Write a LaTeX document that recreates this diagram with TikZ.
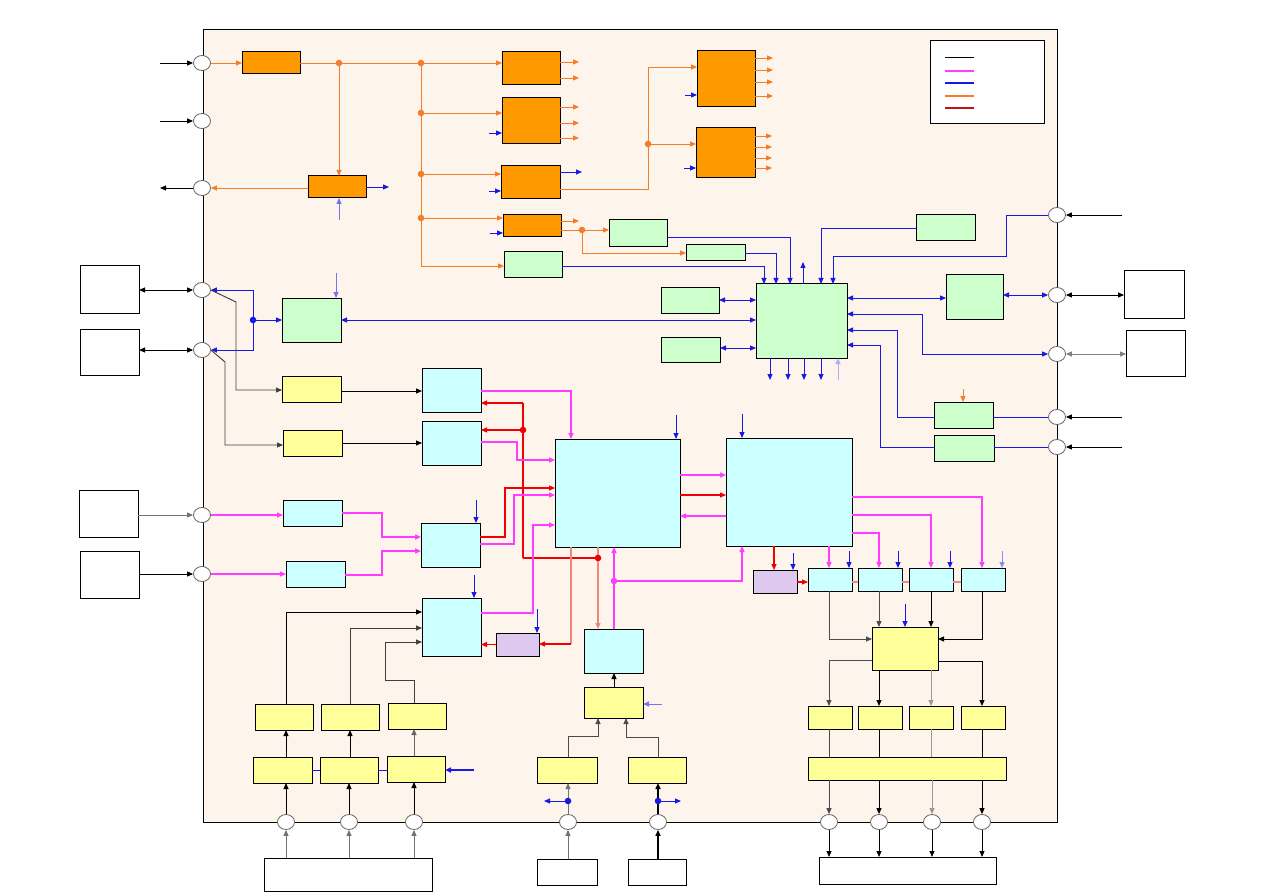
\documentclass[tikz,border=0pt]{standalone}
\usetikzlibrary{arrows.meta,shapes.geometric,fit}
\definecolor{bgF}{RGB}{253,244,235}
\definecolor{orF}{RGB}{255,153,0}
\definecolor{grF}{RGB}{204,255,204}
\definecolor{cyF}{RGB}{204,255,255}
\definecolor{yeF}{RGB}{255,255,153}
\definecolor{laF}{RGB}{222,200,240}
\definecolor{oL}{RGB}{245,125,40}
\definecolor{mL}{RGB}{255,60,255}
\definecolor{bL}{RGB}{25,25,230}
\definecolor{rL}{RGB}{240,0,0}
\definecolor{sL}{RGB}{238,135,125}
\definecolor{dR}{RGB}{190,20,20}
\tikzset{
 box/.style={draw=black,line width=1pt,inner sep=0pt,outer sep=0pt},
 ob/.style={box,fill=orF}, gb/.style={box,fill=grF}, cb/.style={box,fill=cyF},
 yb/.style={box,fill=yeF}, lb/.style={box,fill=laF}, wb/.style={box,fill=white},
 port/.style={ellipse,draw=black!60,fill=white,minimum width=17pt,minimum height=15pt,inner sep=0pt,line width=0.8pt},
 ln/.style={line width=0.95pt},
 tp/.style={-{Triangle[length=6pt,width=5pt]}},
 dtp/.style={{Triangle[length=6pt,width=5pt]}-{Triangle[length=6pt,width=5pt]}},
 kl/.style={ln,draw=black}, kar/.style={kl,tp}, kdar/.style={kl,dtp},
 ol/.style={ln,draw=oL}, oar/.style={ol,tp,color=oL},
 bl/.style={ln,draw=bL}, bar/.style={bl,tp,color=bL}, bdar/.style={bl,dtp,color=bL},
 ml/.style={line width=1.3pt,draw=mL}, mar/.style={ml,tp,color=mL},
 rl/.style={line width=1.1pt,draw=rL}, rar/.style={rl,tp,color=rL},
 sl/.style={line width=1.3pt,draw=sL}, sar/.style={sl,tp,color=sL},
}
\newcommand{\bx}[6]{\node[#2,fit={(#3,#4)(#5,#6)}] (#1) {};}
\begin{document}
\begin{tikzpicture}[x=1pt,y=-1pt]
\useasboundingbox (0,0) rectangle (1263,893);
\fill[white] (0,0) rectangle (1263,893);
\bx{main}{box,fill=bgF}{203}{30}{1057}{822}
% ports
\foreach \n/\y in {pl1/63,pl2/121,pl3/188,pl4/290,pl5/350,pl6/515,pl7/574}{\node[port] (\n) at (202,\y) {};}
\foreach \n/\y in {pr1/215,pr2/295,pr3/354,pr4/417,pr5/447}{\node[port] (\n) at (1057,\y) {};}
\foreach \n/\x in {pb1/286,pb2/349,pb3/414,pb4/568,pb5/658,pb6/829,pb7/879,pb8/932,pb9/982}{\node[port] (\n) at (\x,822) {};}
% external boxes
\bx{el1}{wb}{80}{266}{139}{313}
\bx{el2}{wb}{80}{329}{139}{375}
\bx{el3}{wb}{79}{490}{138}{537}
\bx{el4}{wb}{80}{551}{139}{598}
\bx{er1}{wb}{1124}{271}{1184}{318}
\bx{er2}{wb}{1126}{330}{1185}{376}
\bx{eb1}{wb}{264}{858}{432}{891}
\bx{eb2}{wb}{537}{859}{597}{885}
\bx{eb3}{wb}{628}{859}{686}{885}
\bx{eb4}{wb}{819}{857}{996}{884}
% external arrows
\coordinate (xa1) at (160,63); \coordinate (xa2) at (160,121); \coordinate (xa3) at (160,188);
\draw[kar] (xa1) -- (pl1.west);
\draw[kar] (xa2) -- (pl2.west);
\draw[kar] (pl3.west) -- (xa3);
\draw[kdar] (el1.east|-pl4) -- (pl4.west);
\draw[kdar] (el2.east|-pl5) -- (pl5.west);
\draw[kar,draw=black!55] (el3.east|-pl6) -- (pl6.west);
\draw[kar] (el4.east|-pl7) -- (pl7.west);
\coordinate (xr1) at (1122,215); \coordinate (xr4) at (1122,417); \coordinate (xr5) at (1122,447);
\draw[kar] (xr1) -- (pr1.east);
\draw[kdar] (pr2.east) -- (er1.west|-pr2);
\draw[kdar,draw=black!50] (pr3.east) -- (er2.west|-pr3);
\draw[kar] (xr4) -- (pr4.east);
\draw[kar] (xr5) -- (pr5.east);
\foreach \p in {pb1,pb2,pb3}{\draw[kar,draw=black!55] (\p|-eb1.north) -- (\p.south);}
\draw[kar,draw=black!55] (pb4|-eb2.north) -- (pb4.south);
\draw[kar,line width=2pt] (pb5|-eb3.north) -- (pb5.south);
\foreach \p in {pb6,pb7,pb8,pb9}{\draw[kar] (\p.south) -- (\p|-eb4.north);}
% legend
\bx{lg}{wb}{930}{41}{1044}{124}
\draw[black,line width=1pt] (945,58) -- (974,58);
\draw[mL,line width=2.2pt] (945,71) -- (974,71);
\draw[bL,line width=1.2pt] (945,83) -- (974,83);
\draw[oL,line width=2.5pt] (945,96) -- (974,96);
\draw[dR,line width=2.5pt] (945,108) -- (974,108);
% orange boxes
\bx{o1}{ob}{242}{52}{300}{74}
\bx{o2}{ob}{308}{176}{366}{198}
\bx{o3}{ob}{502}{52}{560}{85}
\bx{o4}{ob}{502}{98}{560}{144}
\bx{o5}{ob}{501}{166}{560}{199}
\bx{o6}{ob}{503}{215}{561}{237}
\bx{o7}{ob}{697}{51}{755}{107}
\bx{o8}{ob}{696}{128}{755}{178}
% green boxes
\bx{g1}{gb}{504}{252}{562}{278}
\bx{g2}{gb}{609}{220}{667}{247}
\bx{g3}{gb}{686}{245}{745}{261}
\bx{gh}{gb}{756}{284}{847}{358}
\bx{g4}{gb}{661}{287}{719}{313}
\bx{g5}{gb}{661}{337}{720}{362}
\bx{g6}{gb}{916}{215}{975}{241}
\bx{g7}{gb}{946}{275}{1003}{319}
\bx{g8}{gb}{934}{402}{993}{428}
\bx{g9}{gb}{934}{435}{994}{461}
\bx{g10}{gb}{282}{298}{341}{342}
% orange connections
\draw[oar] (pl1.east) -- (o1.west);
\draw[oar] (o1.east) -- (o3.west|-o1.east);
\coordinate (d1) at (339,63); \coordinate (d2) at (421,63);
\draw[oar] (d1) -- (d1|-o2.north);
\draw[oar] (o2.west|-pl3) -- (pl3.east);
\draw[bar] (o2.east) -- (389,187);
\draw[bar,draw=bL!60] (339,220) -- (d1|-o2.south);
\draw[ol] (d2) -- (421,266);
\draw[oar] (421,266) -- (g1.west|-0,266);
\draw[oar] (421,113) -- (o4.west|-0,113);
\draw[oar] (421,174) -- (o5.west|-0,174);
\draw[oar] (421,218) -- (o6.west|-0,218);
\foreach \p in {(339,63),(421,63),(421,113),(421,174),(421,218),(648,144),(582,230)}{\fill[oL] \p circle (3.3pt);}
\foreach \y in {62,78}{\draw[oar] (o3.east|-0,\y) -- (579,\y);}
\foreach \y in {107,123,138}{\draw[oar] (o4.east|-0,\y) -- (579,\y);}
\draw[bar] (489,133) -- (o4.west|-0,133);
\draw[bar] (o5.east|-0,172) -- (582,172);
\draw[bar] (489,191) -- (o5.west|-0,191);
\draw[ol] (o5.east|-0,189) -- (648,189) -- (648,67);
\draw[oar] (648,67) -- (o7.west|-0,67);
\draw[oar] (648,144) -- (o8.west|-0,144);
\foreach \y in {58,70,82,96}{\draw[oar] (o7.east|-0,\y) -- (773,\y);}
\draw[bar] (685,95) -- (o7.west|-0,95);
\foreach \y in {136,147,158,168}{\draw[oar] (o8.east|-0,\y) -- (772,\y);}
\draw[bar] (684,168) -- (o8.west|-0,168);
\draw[oar] (o6.east|-0,221) -- (579,221);
\draw[bar] (490,233) -- (o6.west|-0,233);
\draw[oar] (o6.east|-0,230) -- (g2.west|-0,230);
\draw[oar] (582,230) -- (582,253) -- (g3.west|-0,253);
% hub connections
\draw[bar] (g2.east|-0,237) -- (790,237) -- (gh.north-|790,0);
\draw[bar] (g3.east|-0,253) -- (776,253) -- (gh.north-|776,0);
\draw[bar] (g1.east|-0,266) -- (764,266) -- (gh.north-|764,0);
\draw[bar] (gh.north-|803,0) -- (803,262);
\draw[bar] (g6.west|-0,228) -- (821,228) -- (gh.north-|821,0);
\draw[bar] (pr1.west) -- (1006,215) -- (1006,256) -- (833,256) -- (gh.north-|833,0);
\draw[bdar] (g4.east|-0,300) -- (gh.west|-0,300);
\draw[bdar] (g10.east|-0,320) -- (gh.west|-0,320);
\draw[bdar] (g5.east|-0,348) -- (gh.west|-0,348);
\foreach \x in {770,788,804,821}{\draw[bar] (gh.south-|\x,0) -- (\x,380);}
\draw[bar,draw=bL!35] (838,380) -- (gh.south-|838,0);
\draw[bdar] (gh.east|-0,298) -- (g7.west|-0,298);
\draw[bdar] (g7.east|-0,295) -- (pr2.west);
\draw[bdar] (gh.east|-0,314) -- (922,314) -- (922,354) -- (pr3.west);
\draw[bar] (g8.west|-pr4) -- (897,417) -- (897,330) -- (gh.east|-0,330);
\draw[bl] (g8.east|-pr4) -- (pr4.west);
\draw[oar] (963,389) -- (g8.north-|963,0);
\draw[bar] (g9.west|-pr5) -- (880,447) -- (880,345) -- (gh.east|-0,345);
\draw[bl] (g9.east|-pr5) -- (pr5.west);
% left top
\draw[bar] (253,320) -- (253,290) -- (pl4.east);
\draw[bar] (253,320) -- (253,350) -- (pl5.east);
\fill[bL] (253,320) circle (3.3pt);
\draw[bar] (253,320) -- (g10.west|-0,320);
\draw[bar,draw=bL!60] (336,273) -- (g10.north-|336,0);
% yellow / cyan left
\bx{y1}{yb}{282}{376}{341}{402}
\bx{y2}{yb}{283}{430}{342}{456}
\bx{c1}{cb}{422}{368}{481}{412}
\bx{c2}{cb}{422}{421}{481}{465}
\bx{c3}{cb}{283}{500}{342}{526}
\bx{c4}{cb}{286}{561}{345}{587}
\bx{c5}{cb}{421}{523}{480}{567}
\bx{cb1}{cb}{555}{439}{680}{547}
\bx{cb2}{cb}{726}{438}{852}{546}
\bx{c7}{cb}{422}{598}{481}{656}
\bx{l1}{lb}{496}{633}{539}{656}
\bx{c6}{cb}{584}{629}{643}{673}
\draw[kar,draw=black!75] (pl4.east) -- (236,302) -- (236,390) -- (y1.west|-0,390);
\draw[kar,draw=black!75] (pl5.east) -- (225,362) -- (225,445) -- (y2.west|-0,445);
\draw[kar] (y1.east|-0,391) -- (c1.west|-0,391);
\draw[kar] (y2.east|-0,443) -- (c2.west|-0,443);
\draw[mar] (pl6.east) -- (c3.west|-0,515);
\draw[mar] (pl7.east) -- (c4.west|-0,574);
\draw[mar] (c3.east|-0,513) -- (382,513) -- (382,537) -- (c5.west|-0,537);
\draw[mar] (c4.east|-0,575) -- (382,575) -- (382,551) -- (c5.west|-0,551);
\draw[bar] (476,500) -- (c5.north-|476,0);
\draw[mar] (c1.east|-0,391) -- (571,391) -- (cb1.north-|571,0);
\draw[rl] (523,558) -- (523,403);
\draw[rar] (523,403) -- (c1.east|-0,403);
\draw[rar] (523,430) -- (c2.east|-0,430);
\draw[rl] (523,558) -- (598,558);
\draw[rar,draw=sL] (cb1.south-|598,0) -- (c6.north-|598,0);
\fill[rL] (523,430) circle (3.3pt); \fill[rL] (598,558) circle (3.3pt);
\draw[mar] (c2.east|-0,442) -- (517,442) -- (517,460) -- (cb1.west|-0,460);
\draw[rar] (c5.east|-0,537) -- (505,537) -- (505,488) -- (cb1.west|-0,488);
\draw[mar] (c5.east|-0,544) -- (514,544) -- (514,495) -- (cb1.west|-0,495);
\draw[mar] (c7.east|-0,613) -- (533,613) -- (533,525) -- (cb1.west|-0,525);
\draw[bar] (474,575) -- (c7.north-|474,0);
\draw[rar] (l1.west) -- (c7.east|-l1.west);
\draw[sl] (cb1.south-|571,0) -- (571,644);
\draw[rar] (571,644) -- (l1.east|-0,644);
\draw[bar] (537,609) -- (l1.north-|537,0);
\draw[bar] (676,415) -- (cb1.north-|676,0);
\draw[mar] (c6.north-|614,0) -- (cb1.south-|614,0);
\draw[mar] (614,581) -- (742,581) -- (cb2.south-|742,0);
\fill[mL] (614,581) circle (3.3pt);
\draw[mar] (cb1.east|-0,475) -- (cb2.west|-0,475);
\draw[rar] (cb1.east|-0,495) -- (cb2.west|-0,495);
\draw[mar] (cb2.west|-0,516) -- (cb1.east|-0,516);
\draw[bar] (742,414) -- (cb2.north-|742,0);
% right lower chain
\bx{l2}{lb}{753}{570}{797}{593}
\bx{c8}{cb}{808}{568}{852}{591}
\bx{c9}{cb}{858}{568}{902}{591}
\bx{c10}{cb}{909}{568}{953}{591}
\bx{c11}{cb}{961}{568}{1005}{591}
\draw[rar] (cb2.south-|774,0) -- (l2.north-|774,0);
\draw[bar] (793,553) -- (l2.north-|793,0);
\draw[rar] (l2.east|-0,582) -- (c8.west|-0,582);
\draw[sl] (c8.east|-0,582) -- (c9.west|-0,582);
\draw[sl] (c9.east|-0,582) -- (c10.west|-0,582);
\draw[sl] (c10.east|-0,582) -- (c11.west|-0,582);
\draw[mar] (cb2.south-|829,0) -- (c8.north-|829,0);
\draw[mar] (cb2.east|-0,533) -- (879,533) -- (c9.north-|879,0);
\draw[mar] (cb2.east|-0,515) -- (931,515) -- (c10.north-|931,0);
\draw[mar] (cb2.east|-0,497) -- (982,497) -- (c11.north-|982,0);
\draw[bar] (849,551) -- (c8.north-|849,0);
\draw[bar] (898,551) -- (c9.north-|898,0);
\draw[bar] (950,551) -- (c10.north-|950,0);
\draw[bar,draw=bL!50] (1002,551) -- (c11.north-|1002,0);
\bx{ybg}{yb}{872}{627}{938}{670}
\draw[kar,draw=black!70] (c8.south-|829,0) -- (829,639) -- (ybg.west|-0,639);
\draw[kar,draw=black!70] (c9.south-|879,0) -- (ybg.north-|879,0);
\draw[kar] (c10.south-|931,0) -- (ybg.north-|931,0);
\draw[kar] (c11.south-|982,0) -- (982,639) -- (ybg.east|-0,639);
\draw[bar] (905,604) -- (ybg.north-|905,0);
\bx{yr1}{yb}{808}{706}{852}{729}
\bx{yr2}{yb}{858}{706}{902}{729}
\bx{yr3}{yb}{909}{706}{953}{729}
\bx{yr4}{yb}{961}{706}{1005}{729}
\bx{yw}{yb}{808}{757}{1006}{780}
\draw[kar,draw=black!70] (ybg.west|-0,660) -- (829,660) -- (yr1.north-|829,0);
\draw[kar] (ybg.south-|879,0) -- (yr2.north-|879,0);
\draw[kar,draw=black!40] (ybg.south-|931,0) -- (yr3.north-|931,0);
\draw[kar] (ybg.east|-0,661) -- (982,661) -- (yr4.north-|982,0);
\draw[kl,draw=black!70] (yr1.south-|829,0) -- (yw.north-|829,0);
\draw[kl] (yr2.south-|879,0) -- (yw.north-|879,0);
\draw[kl,draw=black!40] (yr3.south-|931,0) -- (yw.north-|931,0);
\draw[kl] (yr4.south-|982,0) -- (yw.north-|982,0);
\draw[kar,draw=black!70] (yw.south-|829,0) -- (pb6.north);
\draw[kar] (yw.south-|879,0) -- (pb7.north);
\draw[kar,draw=black!40] (yw.south-|932,0) -- (pb8.north);
\draw[kar] (yw.south-|982,0) -- (pb9.north);
% bottom-left
\bx{ya1}{yb}{255}{704}{313}{730}
\bx{ya2}{yb}{321}{704}{379}{730}
\bx{ya3}{yb}{388}{703}{446}{729}
\bx{yb1}{yb}{253}{757}{312}{783}
\bx{yb2}{yb}{320}{757}{378}{783}
\bx{yb3}{yb}{387}{756}{445}{782}
\draw[bL,line width=0.8pt] (yb1.east|-0,770) -- (yb2.west|-0,770);
\draw[bL,line width=0.8pt] (yb2.east|-0,770) -- (yb3.west|-0,770);
\draw[bar,line width=2pt] (474,770) -- (yb3.east|-0,770);
\draw[kar] (pb1.north) -- (yb1.south-|pb1);
\draw[kar] (pb2.north) -- (yb2.south-|pb2);
\draw[kar] (pb3.north) -- (yb3.south-|pb3);
\draw[kar] (yb1.north-|286,0) -- (ya1.south-|286,0);
\draw[kar] (yb2.north-|350,0) -- (ya2.south-|350,0);
\draw[kar,draw=black!60] (yb3.north-|414,0) -- (ya3.south-|414,0);
\draw[kar] (ya1.north-|286,0) -- (286,612) -- (c7.west|-0,612);
\draw[kar,draw=black!75] (ya2.north-|350,0) -- (350,628) -- (c7.west|-0,628);
\draw[kar,draw=black!75] (ya3.north-|414,0) -- (414,680) -- (385,680) -- (385,642) -- (c7.west|-0,642);
% bottom-middle
\bx{yc}{yb}{584}{687}{643}{718}
\bx{yd1}{yb}{537}{757}{597}{783}
\bx{yd2}{yb}{628}{757}{686}{783}
\draw[kar] (yc.north-|614,0) -- (c6.south-|614,0);
\draw[bar,draw=bL!60] (662,704) -- (yc.east|-0,704);
\draw[kar,draw=black!70] (yd1.north-|568,0) -- (568,736) -- (598,736) -- (yc.south-|598,0);
\draw[kar,draw=black!70] (yd2.north-|658,0) -- (658,737) -- (626,737) -- (yc.south-|626,0);
\draw[kar,draw=black!55] (pb4.north) -- (yd1.south-|pb4);
\draw[kar,line width=2pt] (pb5.north) -- (yd2.south-|pb5);
\fill[bL] (568,801) circle (3.3pt); \fill[bL] (658,801) circle (3.3pt);
\draw[bar] (568,801) -- (544,801);
\draw[bar] (658,801) -- (681,801);
\end{tikzpicture}
\end{document}
